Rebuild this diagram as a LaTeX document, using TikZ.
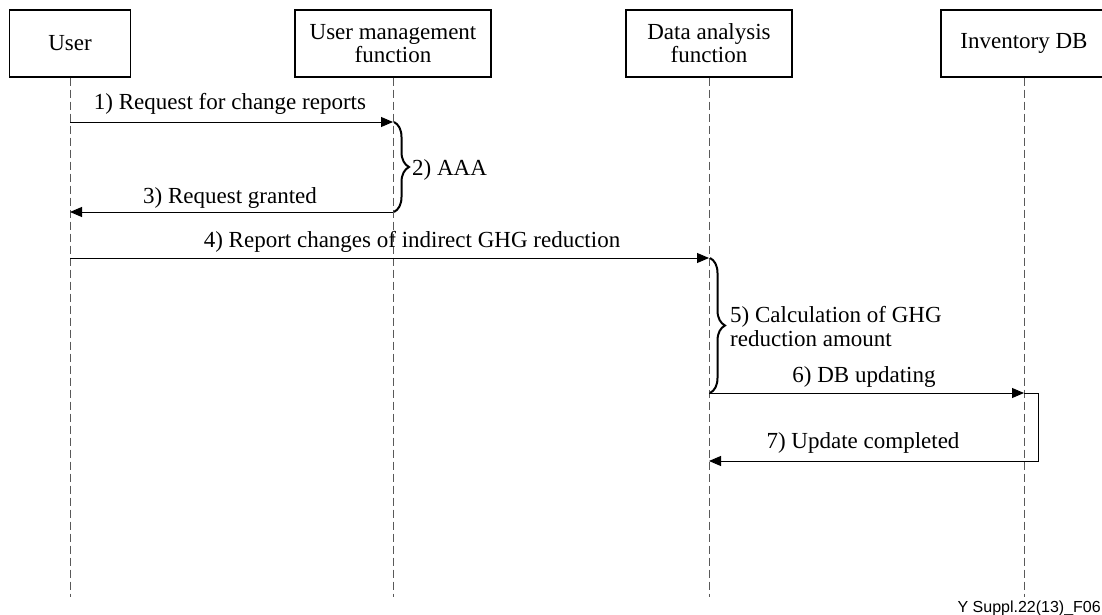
\documentclass[tikz,border=0pt]{standalone}
\usepackage{fontspec}
\setmainfont{Liberation Serif}
\newfontfamily\footfont{Liberation Sans}
\usetikzlibrary{arrows.meta,decorations.pathreplacing}
\begin{document}
\begin{tikzpicture}[x=1pt,y=-1pt,
  font=\fontsize{23}{23}\selectfont,
  actor/.style={draw,line width=1.1pt,minimum height=67pt,inner sep=0pt,align=center},
  life/.style={draw=black!65,dash pattern=on 8pt off 4pt,line width=0.9pt},
  msg/.style={draw,line width=0.9pt,-{Triangle[length=12pt,width=10pt]}},
  lbl/.style={anchor=base,inner sep=0pt},
  brc/.style={decorate,decoration={brace,amplitude=15pt,aspect=0.5},line width=2pt}
]
\useasboundingbox[fill=white] (0,0) rectangle (1102,615);
% actors
\node[actor,minimum width=121pt] (user) at (70,43.5) {User};
\node[actor,minimum width=196pt] (umf) at (393,43.5) {User management\\function};
\node[actor,minimum width=166pt] (daf) at (709,43.5) {Data analysis\\function};
\node[actor,minimum width=166pt] (inv) at (1024,43.5) {Inventory DB};
% lifeline ends
\coordinate (ue) at (70,597);
\coordinate (me) at (393,597);
\coordinate (de) at (709,597);
\coordinate (ie) at (1024,597);
\draw[life] (user.south) -- (ue);
\draw[life] (umf.south) -- (me);
\draw[life] (daf.south) -- (de);
\draw[life] (inv.south) -- (ie);
% 1
\draw[msg] (user.south |- 0,122) -- (umf.south |- 0,122);
\node[lbl] (l1) at (230,110) {1) Request for change reports};
% 2
\draw[brc] (394,122) -- (394,212);
\node[anchor=base west,inner sep=0pt] (l2) at (412,175) {2) AAA};
% 3
\draw[msg] (umf.south |- 0,212) -- (user.south |- 0,212);
\node[lbl] (l3) at (230,203) {3) Request granted};
% 4
\draw[msg] (user.south |- 0,258) -- (daf.south |- 0,258);
\node[lbl] (l4) at (412,247) {4) Report changes of indirect GHG reduction};
% 5
\draw[brc] (710,258) -- (710,393);
\node[anchor=base west,inner sep=0pt] (l5a) at (730,322) {5) Calculation of GHG};
\node[anchor=base west,inner sep=0pt] (l5b) at (730,346) {reduction amount};
% 6
\draw[msg] (daf.south |- 0,393) -- (inv.south |- 0,393);
\node[lbl] (l6) at (864,382) {6) DB updating};
% 7
\draw[msg] (inv.south |- 0,393) -- ++(14,0) |- (daf.south |- 0,461);
\node[lbl] (l7) at (863,448) {7) Update completed};
% footer
\node[anchor=base east,inner sep=0pt,font=\footfont\fontsize{16}{18}\selectfont] (foot) at (1101,612) {Y Suppl.22(13)\_F06};
\end{tikzpicture}
\end{document}
